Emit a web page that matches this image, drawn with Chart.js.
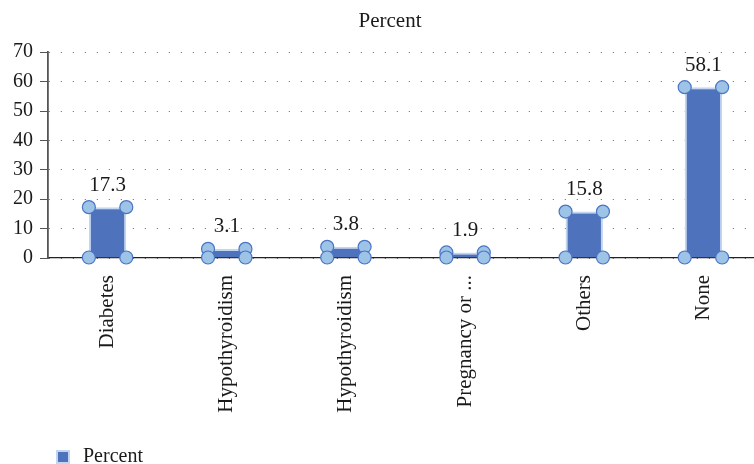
<!DOCTYPE html>
<html>
<head>
<meta charset="utf-8">
<script src="https://cdn.jsdelivr.net/npm/chart.js@4.4.0/dist/chart.umd.min.js"></script>
<style>
  html, body { margin: 0; padding: 0; background: #fff; }
  canvas { display: block; }
</style>
</head>
<body>
<canvas id="chart" width="754" height="464"></canvas>
<script>
// values
var categories = ['Diabetes', 'Hypothyroidism', 'Hypothyroidism', 'Pregnancy or ...', 'Others', 'None'];
var percent = [17.3, 3.1, 3.8, 1.9, 15.8, 58.1];
var yTicks = [0, 10, 20, 30, 40, 50, 60, 70];

var FONT = "'Liberation Serif', 'Times New Roman', serif";

// corner handles + value labels on each bar
var handles = {
    id: 'handles',
    afterDatasetsDraw: function (chart) {
        var ctx = chart.ctx;
        var meta = chart.getDatasetMeta(0);
        ctx.save();
        meta.data.forEach(function (bar, i) {
            var p = bar.getProps(['x', 'y', 'base', 'width'], true);
            var l = p.x - p.width / 2, r = p.x + p.width / 2;
            [[l, p.y], [r, p.y], [l, p.base], [r, p.base]].forEach(function (pt) {
                ctx.beginPath();
                ctx.arc(pt[0], pt[1], 6.5, 0, Math.PI * 2);
                ctx.fillStyle = '#9dc3e6';
                ctx.fill();
                ctx.lineWidth = 1.2;
                ctx.strokeStyle = '#4a74c4';
                ctx.stroke();
            });
            ctx.fillStyle = '#1a1a1a';
            ctx.font = '21px ' + FONT;
            ctx.textAlign = 'center';
            ctx.textBaseline = 'middle';
            ctx.fillText(percent[i].toFixed(1), p.x, p.y - 22);
        });
        ctx.restore();
    }
};

// nudge title, legend and x range like the original
var nudge = {
    id: 'nudge',
    afterLayout: function (chart) {
        if (chart.titleBlock) { chart.titleBlock.left += 13; chart.titleBlock.right += 13; }
        if (chart.legend) {
            chart.legend.left += 43; chart.legend.right += 43;
            chart.legend.top += 13; chart.legend.bottom += 13;
        }
        var xs = chart.scales.x;
        xs.right += 9; xs.width += 9;
        xs.configure();
    }
};

new Chart(document.getElementById('chart'), {
    type: 'bar',
    data: {
        labels: categories,
        datasets: [{
            label: 'Percent',
            data: percent,
            backgroundColor: '#4f72bd',
            borderColor: '#c3d6ef',
            borderWidth: 2,
            barPercentage: 0.314,
            categoryPercentage: 1
        }]
    },
    options: {
        responsive: false,
        animation: false,
        devicePixelRatio: 1,
        plugins: {
            title: {
                display: true,
                text: 'Percent',
                color: '#1a1a1a',
                font: { family: FONT, size: 21, weight: 'normal' },
                padding: { top: 9, bottom: 18 }
            },
            legend: {
                position: 'bottom',
                align: 'start',
                labels: {
                    color: '#1a1a1a',
                    font: { family: FONT, size: 20 },
                    usePointStyle: true,
                    pointStyle: 'rect',
                    boxWidth: 20,
                    boxHeight: 12,
                    padding: 10
                }
            },
            tooltip: { enabled: false }
        },
        scales: {
            x: {
                grid: { display: false },
                border: { display: true, color: '#222', width: 1.2 },
                ticks: {
                    color: '#1a1a1a',
                    font: { family: FONT, size: 21 },
                    minRotation: 90,
                    maxRotation: 90,
                    autoSkip: false,
                    padding: 9
                },
                afterFit: function (scale) { scale.height = 166; }
            },
            y: {
                min: 0,
                max: 70,
                afterBuildTicks: function (scale) {
                    scale.ticks = yTicks.map(function (v) { return { value: v }; });
                },
                grid: {
                    color: '#666',
                    lineWidth: 1,
                    tickLength: 8,
                    tickColor: '#555',
                    tickBorderDash: []
                },
                border: { display: true, color: '#555', width: 1.8, dash: [1, 11] },
                ticks: {
                    color: '#1a1a1a',
                    font: { family: FONT, size: 20 },
                    padding: 7
                },
                afterFit: function (scale) { scale.width = 48; }
            }
        }
    },
    plugins: [handles, nudge]
});
</script>
</body>
</html>
